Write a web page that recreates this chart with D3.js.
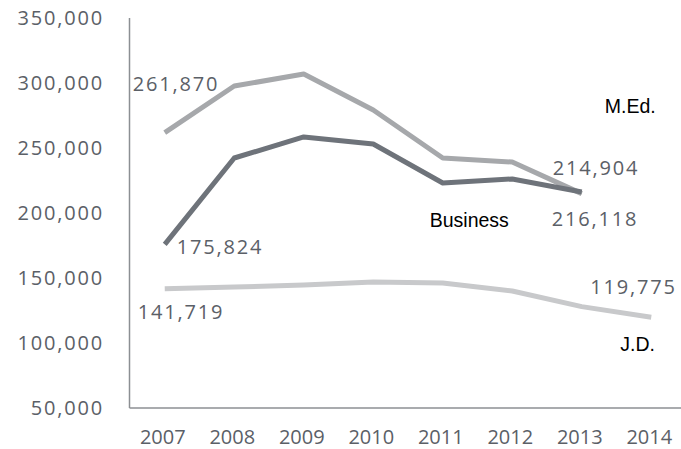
<!DOCTYPE html>
<html>
<head>
<meta charset="utf-8">
<script src="https://cdn.jsdelivr.net/npm/d3@7"></script>
<style>
  body { margin: 0; background: #fff; }
  .y-label { font-family: "Open Sans", sans-serif; font-size: 20px; fill: #5b6067; letter-spacing: 1.8px; }
  .x-label { font-family: "Open Sans", sans-serif; font-size: 20px; fill: #5b6067; }
  .value-label { font-family: "Open Sans", sans-serif; font-size: 20px; fill: #5b6067; letter-spacing: 1.8px; }
  .series-label { font-family: "Liberation Sans", Arial, sans-serif; font-size: 19.5px; fill: #000; }
</style>
</head>
<body>
<svg id="chart"></svg>
<script>
// years along the bottom
const years = [2007, 2008, 2009, 2010, 2011, 2012, 2013, 2014];
const yTicks = [50000, 100000, 150000, 200000, 250000, 300000, 350000];

// series values (labelled ones exact)
const medValues = [261870, 297700, 306900, 279200, 242300, 239200, 214904];
const businessValues = [175824, 242300, 258500, 253100, 223100, 226200, 216118];
const jdValues = [141719, 143000, 144600, 146900, 146200, 140000, 128000, 119775];

const series = [
  { name: 'J.D.', values: jdValues, color: '#c8c9cb' },
  { name: 'M.Ed.', values: medValues, color: '#a6a8ab' },
  { name: 'Business', values: businessValues, color: '#6e737a' }
];

const width = 681, height = 449;

const svg = d3.select('#chart')
    .attr('width', width)
    .attr('height', height);

// scales
const x = d3.scalePoint()
    .domain(years)
    .range([130, 686])
    .padding(0.5);

const y = d3.scaleLinear()
    .domain([50000, 350000])
    .range([408, 18]);

const fmt = d3.format(',');

// axis lines
svg.append('line')
    .attr('x1', 129.5).attr('x2', 129.5)
    .attr('y1', y(350000)).attr('y2', y(50000))
    .attr('stroke', '#8c8f93').attr('stroke-width', 1.5);

svg.append('line')
    .attr('x1', 129.5).attr('x2', width)
    .attr('y1', y(50000)).attr('y2', y(50000))
    .attr('stroke', '#8c8f93').attr('stroke-width', 1.5);

// y tick labels
svg.selectAll('.ytick')
    .data(yTicks)
    .enter().append('text')
    .attr('class', 'y-label')
    .attr('text-anchor', 'end')
    .attr('x', 104)
    .attr('y', d => y(d))
    .attr('dy', '0.35em')
    .text(d => fmt(d));

// x tick labels
svg.selectAll('.xtick')
    .data(years)
    .enter().append('text')
    .attr('class', 'x-label')
    .attr('text-anchor', 'middle')
    .attr('x', d => x(d) - 2)
    .attr('y', 437)
    .attr('dy', '0.35em')
    .text(d => d);

// lines
const line = d3.line()
    .x((d, i) => x(years[i]))
    .y(d => y(d));

svg.selectAll('.series')
    .data(series)
    .enter().append('path')
    .attr('fill', 'none')
    .attr('stroke', d => d.color)
    .attr('stroke-width', 5)
    .attr('stroke-linejoin', 'round')
    .attr('d', d => line(d.values));

// value labels near the ends of the lines
const valueLabels = [
  { v: medValues[0], xi: 0, dx: -32, dy: -49 },
  { v: businessValues[0], xi: 0, dx: 12, dy: 3 },
  { v: jdValues[0], xi: 0, dx: -27, dy: 23.5 },
  { v: medValues[6], xi: 6, dx: -29, dy: -26 },
  { v: businessValues[6], xi: 6, dx: -30, dy: 27 },
  { v: jdValues[7], xi: 7, dx: -61, dy: -30 }
];

svg.selectAll('.vlabel')
    .data(valueLabels)
    .enter().append('text')
    .attr('class', 'value-label')
    .attr('x', d => x(years[d.xi]) + d.dx)
    .attr('y', d => y(d.v) + d.dy)
    .attr('dy', '0.35em')
    .text(d => fmt(d.v));

// series names
const nameLabels = [
  { name: 'M.Ed.', xi: 6, v: medValues[6], dx: 23, dy: -87 },
  { name: 'Business', xi: 6, v: businessValues[6], dx: -152, dy: 28 },
  { name: 'J.D.', xi: 7, v: jdValues[7], dx: -31, dy: 27 }
];

svg.selectAll('.nlabel')
    .data(nameLabels)
    .enter().append('text')
    .attr('class', 'series-label')
    .attr('x', d => x(years[d.xi]) + d.dx)
    .attr('y', d => y(d.v) + d.dy)
    .attr('dy', '0.35em')
    .text(d => d.name);
</script>
</body>
</html>
